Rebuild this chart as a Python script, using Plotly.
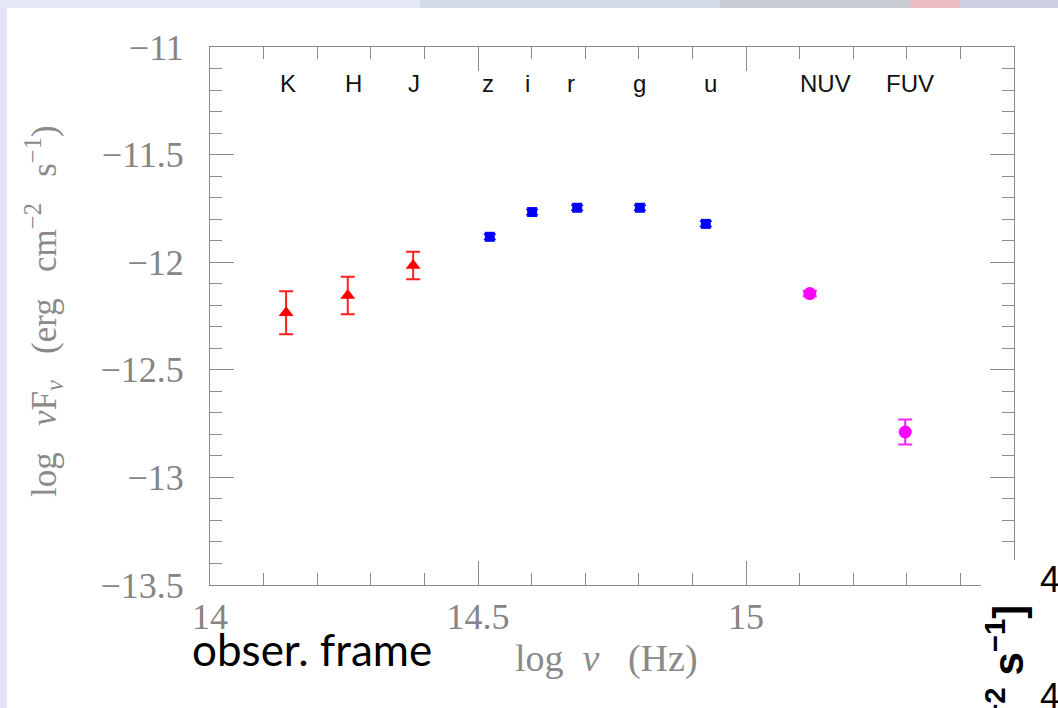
import plotly.graph_objects as go

# ---------------- data ----------------
nir_bands = ["K", "H", "J"]
nir_lognu = [14.142, 14.257, 14.379]
nir_flux = [-12.235, -12.155, -12.015]
nir_err = [0.10, 0.087, 0.064]

opt_bands = ["z", "i", "r", "g", "u"]
opt_lognu = [14.522, 14.601, 14.685, 14.802, 14.925]
opt_flux = [-11.882, -11.767, -11.747, -11.747, -11.822]
opt_err = [0.012, 0.012, 0.012, 0.012, 0.012]

uv_bands = ["NUV", "FUV"]
uv_lognu = [15.119, 15.297]
uv_flux = [-12.146, -12.789]
uv_err = [0.012, 0.058]

label_text = ["K", "H", "J", "z", "i", "r", "g", "u", "NUV", "FUV"]
label_lognu = [14.146, 14.267, 14.381, 14.519, 14.593, 14.673, 14.802, 14.933, 15.148, 15.306]
label_level = -11.168

x_ticks = [14, 14.5, 15]
x_ticktext = ["14", "14.5", "15"]
y_ticks = [-11, -11.5, -12, -12.5, -13, -13.5]
y_ticktext = ["\u221211", "\u221211.5", "\u221212", "\u221212.5", "\u221213", "\u221213.5"]

# ---------------- layout geometry ----------------
W, H = 1058, 708
L, R, T, B = 210, 1014, 47, 585


def px(xp):
    return (xp - L) / (R - L)


def py(yp):
    return (B - yp) / (B - T)


NB = "\u00a0"

fig = go.Figure()

fig.add_trace(go.Scatter(
    x=nir_lognu, y=nir_flux, mode="markers",
    marker=dict(symbol="triangle-up", size=13, color="#ff0000"),
    error_y=dict(type="data", array=nir_err, color="#ff2020", thickness=2, width=7),
    showlegend=False, text=nir_bands,
))
fig.add_trace(go.Scatter(
    x=opt_lognu, y=opt_flux, mode="markers",
    marker=dict(symbol="square", size=10, color="#0000ff"),
    error_y=dict(type="data", array=opt_err, color="#0000ff", thickness=1.5, width=6),
    showlegend=False, text=opt_bands,
))
fig.add_trace(go.Scatter(
    x=uv_lognu, y=uv_flux, mode="markers",
    marker=dict(symbol="circle", size=13, color="#ff00ff"),
    error_y=dict(type="data", array=uv_err, color="#ff20ff", thickness=2, width=7),
    showlegend=False, text=uv_bands,
))

# band labels
for t, xv in zip(label_text, label_lognu):
    fig.add_annotation(x=xv, y=label_level, xref="x", yref="y", text=t,
                       showarrow=False, font=dict(family="Liberation Sans, Arial", size=24, color="#111111"),
                       xanchor="center", yanchor="middle")

tickfont = dict(family="Liberation Serif", size=36, color="#858585")
axcol = "#8a8a8a"

fig.update_xaxes(
    range=[14, 15.5], showgrid=False, zeroline=False,
    showline=True, linecolor=axcol, linewidth=1, mirror="allticks",
    ticks="inside", ticklen=24, tickcolor=axcol, tickwidth=1,
    tickvals=x_ticks, ticktext=x_ticktext, tickfont=tickfont,
    ticklabelstandoff=0,
    minor=dict(ticks="inside", ticklen=12, dtick=0.1, tick0=14, tickcolor=axcol, tickwidth=1, showgrid=False),
)
fig.update_yaxes(
    range=[-13.5, -11], showgrid=False, zeroline=False,
    showline=True, linecolor=axcol, linewidth=1, mirror="allticks",
    ticks="inside", ticklen=24, tickcolor=axcol, tickwidth=1,
    tickvals=y_ticks, ticktext=y_ticktext, tickfont=tickfont,
    ticklabelstandoff=18,
    minor=dict(ticks="inside", ticklen=12, dtick=0.1, tick0=-13.5, tickcolor=axcol, tickwidth=1, showgrid=False),
)

# axis titles as annotations
fig.add_annotation(x=px(606), y=py(659), xref="paper", yref="paper",
                   text="log" + NB * 2 + "<i>\u03bd</i>" + NB * 3 + "(Hz)", showarrow=False,
                   font=dict(family="Liberation Serif", size=38, color="#8a8a8a"),
                   xanchor="center", yanchor="middle")
fig.add_annotation(x=px(43), y=py(311), xref="paper", yref="paper",
                   text="log" + NB * 3 + "<i>\u03bd</i>F<sub><i>\u03bd</i></sub>" + NB * 3 + "(erg" + NB * 3
                        + "cm<sup>\u22122</sup>" + NB * 3 + "s<sup>\u22121</sup>)",
                   showarrow=False, textangle=-90,
                   font=dict(family="Liberation Serif", size=35, color="#8a8a8a"),
                   xanchor="center", yanchor="middle")

# slide text
fig.add_annotation(x=px(190), y=py(649), xref="paper", yref="paper",
                   text="obser. frame", showarrow=False,
                   font=dict(family="Lato, Open Sans", size=44, color="#000000"),
                   xanchor="left", yanchor="middle")

# slide decorations
shapes = [
    dict(type="rect", xref="paper", yref="paper", x0=px(0), x1=px(7), y0=py(H), y1=py(0),
         fillcolor="#e3e5f6", line=dict(width=0), layer="below"),
    dict(type="rect", xref="paper", yref="paper", x0=px(0), x1=px(420), y0=py(8), y1=py(0),
         fillcolor="#e6e8f7", line=dict(width=0), layer="below"),
    dict(type="rect", xref="paper", yref="paper", x0=px(420), x1=px(720), y0=py(8), y1=py(0),
         fillcolor="#d3dbe8", line=dict(width=0), layer="below"),
    dict(type="rect", xref="paper", yref="paper", x0=px(720), x1=px(910), y0=py(8), y1=py(0),
         fillcolor="#c8ccd3", line=dict(width=0), layer="below"),
    dict(type="rect", xref="paper", yref="paper", x0=px(910), x1=px(960), y0=py(8), y1=py(0),
         fillcolor="#eebfc2", line=dict(width=0), layer="below"),
    dict(type="rect", xref="paper", yref="paper", x0=px(960), x1=px(W), y0=py(8), y1=py(0),
         fillcolor="#ccd0e2", line=dict(width=0), layer="below"),
    # overlapping white panel of another slide image (bottom-right)
    dict(type="rect", xref="paper", yref="paper", x0=px(981), x1=px(W + 5), y0=py(H + 5), y1=py(560),
         fillcolor="#ffffff", line=dict(width=0), layer="above"),
]
fig.update_layout(shapes=shapes)

fig.add_annotation(x=px(1005), y=py(603), xref="paper", yref="paper",
                   text="<b>cm<sup>\u22122</sup> s<sup>\u22121</sup>]</b>", showarrow=False, textangle=-90,
                   font=dict(family="Liberation Sans, Arial", size=42, color="#000000"),
                   xanchor="center", yanchor="top")
fig.add_annotation(x=px(1038), y=py(579), xref="paper", yref="paper",
                   text="4", showarrow=False,
                   font=dict(family="Liberation Sans, Arial", size=36, color="#000000"),
                   xanchor="left", yanchor="middle")
fig.add_annotation(x=px(1038), y=py(696), xref="paper", yref="paper",
                   text="4", showarrow=False,
                   font=dict(family="Liberation Sans, Arial", size=36, color="#000000"),
                   xanchor="left", yanchor="middle")

fig.update_layout(
    width=W, height=H,
    margin=dict(l=L, r=W - R, t=T, b=H - B, autoexpand=False),
    paper_bgcolor="#ffffff", plot_bgcolor="#ffffff",
    showlegend=False,
)

fig.write_html("out.html")
